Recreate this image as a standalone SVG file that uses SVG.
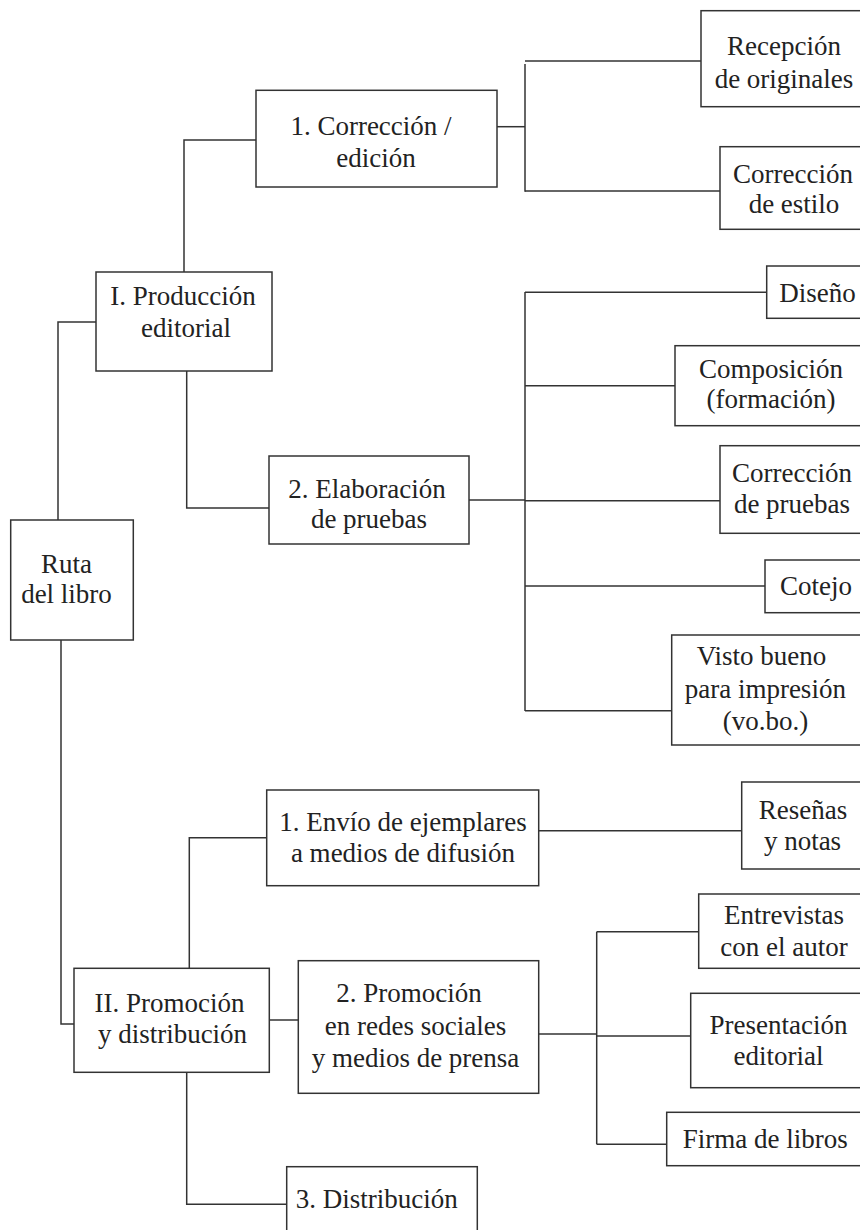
<svg xmlns="http://www.w3.org/2000/svg" width="860" height="1230" viewBox="0 0 860 1230">
<style>
.box{fill:#fff;stroke:#333;stroke-width:1.5}
.c{fill:none;stroke:#333;stroke-width:1.5}
.t text{font-family:'Liberation Serif','Times New Roman',serif;font-size:27px;fill:#222;text-anchor:middle}
</style>
<rect width="860" height="1230" fill="#fff"/>
<g id="connectors">
<path class="c" d="M58,520 V322 H96"/>
<path class="c" d="M184,272 V140 H256"/>
<path class="c" d="M186.7,371 V508 H269"/>
<path class="c" d="M497,126.7 H525"/>
<path class="c" d="M525,64 V191.7"/>
<path class="c" d="M525,61 H701"/>
<path class="c" d="M525,191 H720"/>
<path class="c" d="M469,500 H525"/>
<path class="c" d="M525,292 V711"/>
<path class="c" d="M525,292.3 H766.7"/>
<path class="c" d="M525,385.7 H675"/>
<path class="c" d="M525,500.7 H720"/>
<path class="c" d="M525,586 H765"/>
<path class="c" d="M525,710.7 H671.7"/>
<path class="c" d="M61,640 V1024 H74"/>
<path class="c" d="M189.3,968 V837.7 H266.7"/>
<path class="c" d="M538.7,830.7 H741.7"/>
<path class="c" d="M269.3,1020 H298.3"/>
<path class="c" d="M538.7,1034 H596.7"/>
<path class="c" d="M596.7,931.7 V1144.3"/>
<path class="c" d="M596.7,931.7 H698.7"/>
<path class="c" d="M596.7,1036 H690.7"/>
<path class="c" d="M596.7,1144.3 H666.7"/>
<path class="c" d="M186.7,1072 V1204.3 H286.7"/>
</g>
<g class="t">
<g id="recepcion"><rect class="box" x="701" y="10.7" width="169" height="96"/><text x="784" y="55">Recepción</text><text x="784" y="88.3">de originales</text></g>
<g id="estilo"><rect class="box" x="720" y="146.7" width="150" height="82.6"/><text x="793" y="183.3">Corrección</text><text x="794" y="213.3">de estilo</text></g>
<g id="correccion"><rect class="box" x="256" y="90.3" width="241" height="96.7"/><text x="371" y="135">1. Corrección /</text><text x="376" y="167">edición</text></g>
<g id="produccion"><rect class="box" x="96" y="272" width="176" height="99"/><text x="183" y="305">I. Producción</text><text x="186" y="336.7">editorial</text></g>
<g id="elaboracion"><rect class="box" x="269" y="456" width="200" height="88"/><text x="367" y="498">2. Elaboración</text><text x="369" y="528">de pruebas</text></g>
<g id="ruta"><rect class="box" x="10.7" y="520" width="122.6" height="120"/><text x="66.5" y="572.7">Ruta</text><text x="66.5" y="603">del libro</text></g>
<g id="diseno"><rect class="box" x="766.7" y="266" width="103.3" height="52.3"/><text x="817.5" y="301.7">Diseño</text></g>
<g id="composicion"><rect class="box" x="675" y="345.7" width="195" height="80"/><text x="771" y="378.3">Composición</text><text x="771" y="408.3">(formación)</text></g>
<g id="pruebas"><rect class="box" x="720" y="445.7" width="150" height="87.6"/><text x="792" y="481.7">Corrección</text><text x="792" y="513.3">de pruebas</text></g>
<g id="cotejo"><rect class="box" x="765" y="560" width="105" height="52.7"/><text x="816" y="595">Cotejo</text></g>
<g id="vistobueno"><rect class="box" x="671.7" y="635" width="198.3" height="110"/><text x="761.5" y="665">Visto bueno</text><text x="765.3" y="698.3">para impresión</text><text x="765.5" y="730">(vo.bo.)</text></g>
<g id="envio"><rect class="box" x="266.7" y="790" width="272" height="95.7"/><text x="403" y="830.7">1. Envío de ejemplares</text><text x="403" y="861.7">a medios de difusión</text></g>
<g id="resenas"><rect class="box" x="741.7" y="782" width="128.3" height="87"/><text x="803" y="819">Reseñas</text><text x="802.5" y="850">y notas</text></g>
<g id="entrevistas"><rect class="box" x="698.7" y="894" width="171.3" height="74.3"/><text x="784" y="924">Entrevistas</text><text x="784" y="956">con el autor</text></g>
<g id="promocion2"><rect class="box" x="298.3" y="960.7" width="240.4" height="132.6"/><text x="409" y="1001.7">2. Promoción</text><text x="415.5" y="1035">en redes sociales</text><text x="415.5" y="1066.7">y medios de prensa</text></g>
<g id="presentacion"><rect class="box" x="690.7" y="993.3" width="179.3" height="94.4"/><text x="778.5" y="1034">Presentación</text><text x="778.5" y="1065">editorial</text></g>
<g id="firma"><rect class="box" x="666.7" y="1112.3" width="203.3" height="53.4"/><text x="765.3" y="1148.3">Firma de libros</text></g>
<g id="promocion"><rect class="box" x="74" y="968.3" width="195.3" height="104"/><text x="169.5" y="1011.7">II. Promoción</text><text x="172.5" y="1043">y distribución</text></g>
<g id="distribucion"><rect class="box" x="286.7" y="1166.7" width="190.6" height="80"/><text x="376.7" y="1208">3. Distribución</text></g>
</g>
</svg>
